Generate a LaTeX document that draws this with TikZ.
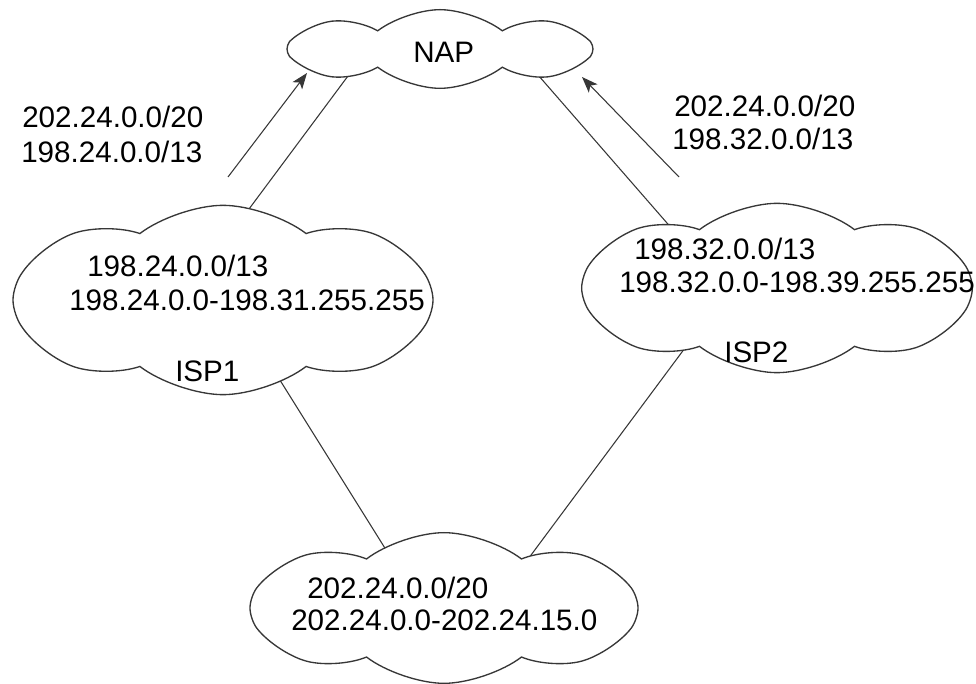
\documentclass[tikz,border=0pt]{standalone}
\usepackage{fontspec}
\setmainfont{Liberation Sans}
\usetikzlibrary{shapes,arrows.meta,positioning,calc,backgrounds}
\definecolor{netgray}{RGB}{55,55,55}
\tikzset{
  netcloud/.style={cloud, draw=netgray, fill=white, line width=1pt, cloud puffs=8,
    cloud puff arc=75, cloud ignores aspect, inner sep=0pt},
  addr/.style={anchor=base west, inner sep=0pt, text=black,
    font=\fontsize{22.2}{26}\selectfont},
  link/.style={draw=netgray, line width=0.8pt},
  advert/.style={link, -{Stealth[length=12pt,width=9pt,inset=3pt]}}
}

\begin{document}
\begin{tikzpicture}[x=0.75pt, y=-0.75pt]
    \useasboundingbox (0,0) rectangle (976,684);
    % clouds
    \node[netcloud, minimum width=229.5pt, minimum height=59pt] (nap) at (440,49) {};
    \node[netcloud, minimum width=315pt, minimum height=142pt] (isp1) at (223,300) {};
    \node[netcloud, minimum width=293pt, minimum height=127pt] (isp2) at (777,288) {};
    \node[netcloud, minimum width=291pt, minimum height=113pt] (cust) at (444,608) {};
    % texts
    \node[addr] (naplbl) at (413,63) {NAP};
    \node[addr] (isp1net) at (87,277) {198.24.0.0/13};
    \node[addr] (isp1rng) at (69,311) {198.24.0.0-198.31.255.255};
    \node[addr] (isp1lbl) at (175,382) {ISP1};
    \node[addr] (isp2net) at (634,260) {198.32.0.0/13};
    \node[addr] (isp2rng) at (619,293) {198.32.0.0-198.39.255.255};
    \node[addr] (isp2lbl) at (724,363) {ISP2};
    \node[addr] (custnet) at (307,599) {202.24.0.0/20};
    \node[addr] (custrng) at (291,631) {202.24.0.0-202.24.15.0};
    \node[addr] (advL1) at (22,128) {202.24.0.0/20};
    \node[addr] (advL2) at (21,163) {198.24.0.0/13};
    \node[addr] (advR1) at (674,117) {202.24.0.0/20};
    \node[addr] (advR2) at (672,150) {198.32.0.0/13};
    % links, run into the clouds and hidden by their fill
    \begin{scope}[on background layer, shorten <=-12pt, shorten >=-12pt]
    \draw[link] ($(isp1.center)+(29,-95)$) -- ($(nap.center)+(-95,31)$);
    \draw[link] ($(nap.center)+(105,34)$) -- ($(isp2.center)+(-117,-73)$);
    \draw[link] ($(isp1.center)+(65,93)$) -- ($(cust.center)+(-61,-63)$);
    \draw[link] ($(isp2.center)+(-95,64)$) -- ($(cust.center)+(96,-65)$);
    \end{scope}
    % advertisements
    \coordinate (advLfrom) at (228,177);
    \coordinate (advLto) at (307,73);
    \coordinate (advRfrom) at (679,177);
    \coordinate (advRto) at (582,77);
    \draw[advert] (advLfrom) -- (advLto);
    \draw[advert] (advRfrom) -- (advRto);
\end{tikzpicture}
\end{document}
